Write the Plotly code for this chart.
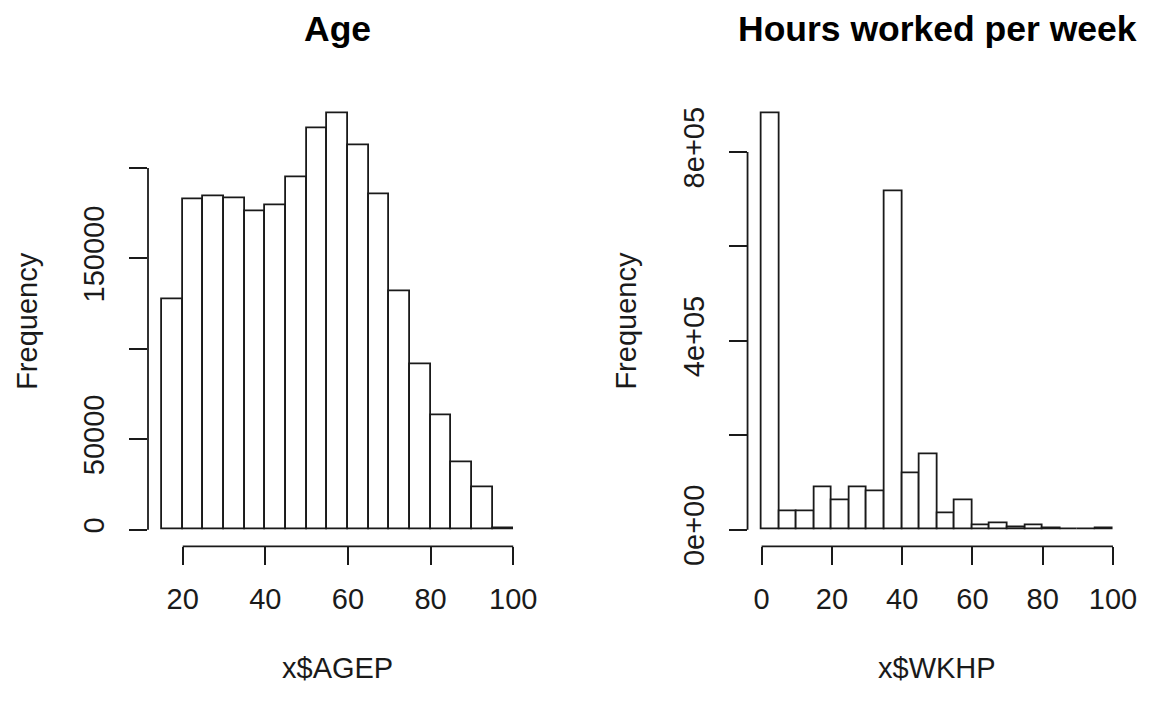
import plotly.graph_objects as go

# ---- data -------------------------------------------------------------
age_breaks = [15, 20, 25, 30, 35, 40, 45, 50, 55, 60, 65, 70, 75, 80, 85, 90, 95, 100]
age_counts = [127400, 182400, 184400, 183300, 176300, 179600, 194600, 222200,
              230400, 212400, 185300, 131900, 91200, 63100, 37100, 23500, 600]

wkhp_breaks = [0, 5, 10, 15, 20, 25, 30, 35, 40, 45, 50, 55, 60, 65, 70, 75, 80,
               85, 90, 95, 100]
wkhp_counts = [882600, 39600, 39600, 89400, 62800, 89400, 81200, 717400, 119500,
               159700, 35500, 61400, 8900, 13000, 4800, 8900, 2000, 1400, 700, 2700]

age_xticks = [20, 40, 60, 80, 100]
age_yticks = [0, 50000, 100000, 150000, 200000]
age_ylabels = ["0", "50000", "", "150000", ""]

wkhp_xticks = [0, 20, 40, 60, 80, 100]
wkhp_yticks = [0, 200000, 400000, 600000, 800000]
wkhp_ylabels = ["0e+00", "", "4e+05", "", "8e+05"]

titles = ["Age", "Hours worked per week"]
xlabels = ["x$AGEP", "x$WKHP"]
ylabel = "Frequency"

# ---- layout constants -------------------------------------------------
W, H = 1150, 704
FONT = "Liberation Sans, Arial, Helvetica, sans-serif"
INK = "#1a1a1a"
LINE_W = 1.8
TICK_LEN = 18
LABEL_SIZE = 29

# plot regions in pixels (left, right, top, bottom)
regions = [(149.3, 531.9, 99.0, 561.5), (754.1, 1136.9, 99.0, 561.5)]


def dom_x(l, r):
    return [l / W, r / W]


def dom_y(t, b):
    return [1 - b / H, 1 - t / H]


def r_range(lo, hi):
    # base-graphics style 4% padding on each side
    pad = 0.04 * (hi - lo)
    return [lo - pad, hi + pad]


fig = go.Figure()

panels = [
    (age_breaks, age_counts, age_xticks, age_yticks, age_ylabels),
    (wkhp_breaks, wkhp_counts, wkhp_xticks, wkhp_yticks, wkhp_ylabels),
]

for i, (breaks, counts, xt, yt, yl) in enumerate(panels):
    ax = "" if i == 0 else str(i + 1)
    centers = [(a + b) / 2 for a, b in zip(breaks[:-1], breaks[1:])]
    widths = [b - a for a, b in zip(breaks[:-1], breaks[1:])]
    fig.add_trace(go.Bar(
        x=centers, y=counts, width=widths,
        marker=dict(color="white", line=dict(color=INK, width=LINE_W)),
        xaxis="x" + ax, yaxis="y" + ax, showlegend=False, hoverinfo="x+y",
    ))

    l, r, t, b = regions[i]
    fig.update_layout(**{
        "xaxis" + ax: dict(
            domain=dom_x(l, r), range=r_range(breaks[0], breaks[-1]),
            anchor="y" + ax, showgrid=False, zeroline=False, showline=False,
            tickmode="array", tickvals=xt, ticktext=[str(v) for v in xt],
            ticks="outside", ticklen=TICK_LEN, tickwidth=LINE_W, tickcolor=INK,
            ticklabelstandoff=9,
            tickfont=dict(family=FONT, size=LABEL_SIZE, color=INK),
        ),
        "yaxis" + ax: dict(
            domain=dom_y(t, b), range=r_range(0, max(counts)),
            anchor="x" + ax, showgrid=False, zeroline=False, showline=False,
            tickmode="array", tickvals=yt, ticktext=yl, tickangle=-90,
            ticks="outside", ticklen=TICK_LEN, tickwidth=LINE_W, tickcolor=INK,
            ticklabelstandoff=13,
            tickfont=dict(family=FONT, size=LABEL_SIZE, color=INK),
        ),
    })

    # axis lines spanning first to last tick
    fig.add_shape(type="line", xref="x" + ax, yref="paper",
                  x0=xt[0], x1=xt[-1], y0=1 - b / H, y1=1 - b / H,
                  line=dict(color=INK, width=LINE_W))
    fig.add_shape(type="line", xref="paper", yref="y" + ax,
                  x0=l / W, x1=l / W, y0=yt[0], y1=yt[-1],
                  line=dict(color=INK, width=LINE_W))

    cx = (l + r) / 2
    # main title
    fig.add_annotation(text="<b>%s</b>" % titles[i], xref="paper", yref="paper",
                       x=cx / W, y=1 - 30 / H, xanchor="center", yanchor="middle",
                       showarrow=False,
                       font=dict(family=FONT, size=35.5, color="black"))
    # x-axis title
    fig.add_annotation(text=xlabels[i], xref="paper", yref="paper",
                       x=cx / W, y=1 - 687 / H, xanchor="center", yanchor="middle",
                       showarrow=False,
                       font=dict(family=FONT, size=LABEL_SIZE, color=INK))
    # y-axis title
    ylx = 27 if i == 0 else 632
    fig.add_annotation(text=ylabel, xref="paper", yref="paper",
                       x=ylx / W, y=1 - 330 / H, xanchor="center", yanchor="middle",
                       textangle=-90, showarrow=False,
                       font=dict(family=FONT, size=LABEL_SIZE, color=INK))

fig.update_layout(
    width=W, height=H, margin=dict(l=0, r=0, t=0, b=0),
    paper_bgcolor="white", plot_bgcolor="white", bargap=0,
)

fig.write_html("out.html", config={"displayModeBar": False})
